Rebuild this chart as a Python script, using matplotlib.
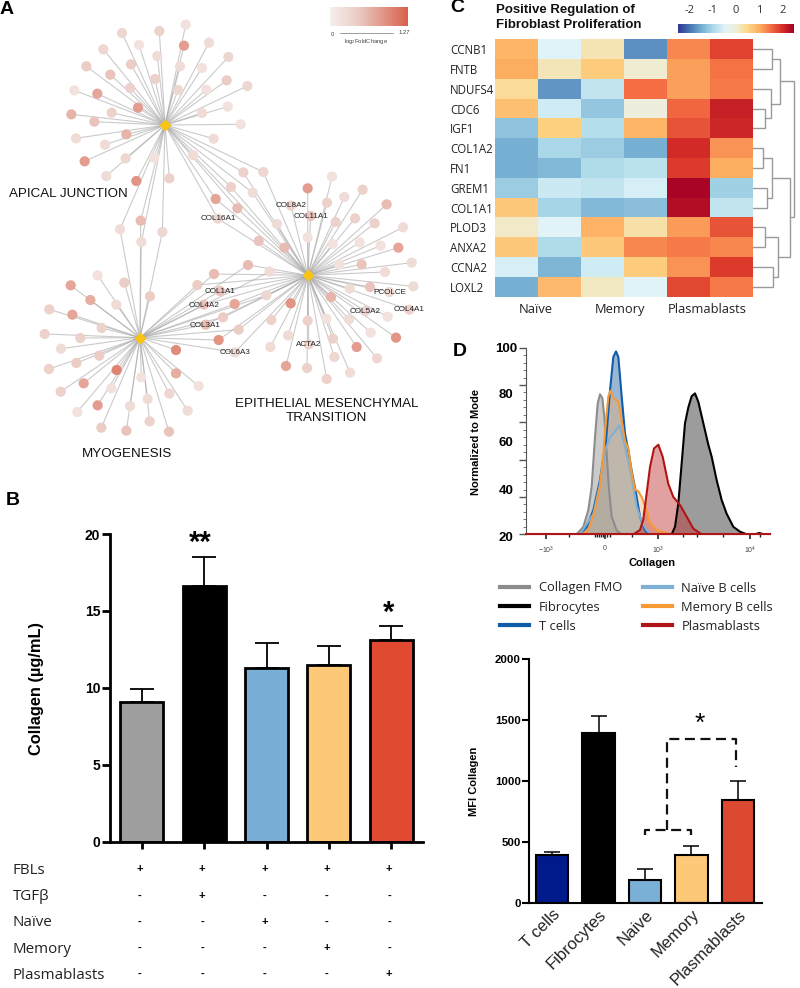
import matplotlib
matplotlib.use("Agg")
import matplotlib.pyplot as plt
import numpy as np
from matplotlib.colors import LinearSegmentedColormap
from matplotlib.lines import Line2D

plt.rcParams['font.family'] = ['Liberation Sans', 'DejaVu Sans']
plt.rcParams['mathtext.default'] = 'regular'

W, H = 800, 988
fig = plt.figure(figsize=(W / 100, H / 100), dpi=100, facecolor='white')


def px_axes(l, t, r, b, **kw):
    return fig.add_axes([l / W, 1 - b / H, (r - l) / W, (b - t) / H], **kw)


# ---------------------------- Panel A data ----------------------------
hub_apical = (495, 375)
hub_emt = (924, 826)
hub_myo = (420, 1013)
apical_nodes = [(557,74,.15),(366,99,.25),(478,93,.3),(552,137,.65),(627,128,.2),(417,135,.15),(310,148,.25),
    (472,168,.2),(685,171,.25),(259,199,.35),(393,193,.35),(540,199,.2),(606,204,.15),(331,224,.4),(465,237,.3),
    (680,241,.35),(742,258,.25),(223,271,.15),(390,264,.3),(534,270,.25),(619,269,.15),(292,281,.6),(414,323,.65),
    (683,320,.15),(214,343,.5),(335,338,.3),(606,339,.2),(283,365,.4),(722,373,.15),(379,403,.5),(228,415,.2),
    (641,416,.2),(315,434,.2),(254,484,.65),(377,475,.25),(319,528,.2),(409,543,.7),(508,535,.3),(462,474,.15)]
apical_emt_nodes = [(579,465,.2),(730,517,.3),(790,516,.25),(693,561,.3),(758,578,.2),(647,597,.6),(712,625,.45),(654,656,.25)]
apical_myo_nodes = [(360,688,.2),(422,662,.45),(424,726,.2),(487,696,.25)]
emt_nodes = [(996,530,.15),(923,565,.65),(1088,569,.3),(1033,591,.2),(981,608,.3),(1160,613,.45),(873,617,.3),
    (932,648,.4),(1007,666,.3),(1065,655,.3),(1124,670,.3),(1209,682,.2),(831,672,.2),(923,712,.15),(998,732,.15),
    (1079,727,.15),(1142,737,.15),(1195,743,.6),(776,723,.4),(853,743,.45),(1018,794,.15),(1085,793,.4),(1235,788,.2),
    (1155,816,.2),(1049,866,.2),(1110,861,.4),(1240,859,.2),(1168,876,.25),(993,891,.5),(1228,929,.3),(1096,933,.3),
    (1163,950,.15),(979,956,.15),(1047,958,.2),(923,962,.3),(1112,998,.15),(999,1016,.3),(1188,1013,.7),(926,1033,.3),
    (1070,1041,.65),(1003,1071,.25),(1131,1075,.25),(858,1098,.6),(921,1104,.3),(1050,1118,.2),(980,1137,.3),
    (872,910,.7),(814,960,.3),(864,1006,.2),(811,1041,.2)]
emt_myo_nodes = [(744,795,.45),(809,815,.2),(642,822,.45),(592,855,.35),(660,873,.4),(799,886,.25),(704,912,.6),
    (612,914,.4),(669,952,.35),(617,974,.45),(716,989,.35),(656,1020,.7),(705,1057,.2)]
myo_nodes = [(293,826,.15),(212,856,.6),(373,848,.35),(271,900,.55),(450,889,.35),(148,928,.3),(349,914,.2),
    (217,944,.6),(305,984,.3),(134,1002,.3),(241,1014,.3),(183,1046,.2),(298,1067,.35),(229,1089,.35),(147,1107,.3),
    (350,1110,.8),(528,1050,.75),(528,1120,.55),(424,1132,.15),(251,1150,.6),(334,1165,.15),(596,1158,.15),(182,1175,.3),
    (508,1181,.25),(443,1197,.2),(293,1216,.65),(390,1218,.2),(563,1232,.2),(232,1236,.15),(449,1264,.3),(304,1283,.35),
    (379,1292,.4),(507,1295,.4)]
gene_labels = [("COL16A1",654,656),("COL8A2",873,617),("COL11A1",932,649),("COL1A1",660,873),("COL4A2",612,915),
    ("COL3A1",616,975),("COL6A3",705,1057),("PCOLCE",1169,876),("COL5A2",1096,933),("COL4A1",1228,929),("ACTA2",926,1034)]
set_labels = [("APICAL JUNCTION",204,583),("MYOGENESIS",382,1363),("EPITHELIAL MESENCHYMAL\nTRANSITION",980,1233)]

# ---------------------------- Panel B data ----------------------------
b_values = [9.1, 16.6, 11.3, 11.5, 13.1]
b_err = [0.8, 1.9, 1.6, 1.2, 0.9]
b_colors = ['#9e9e9e', '#000000', '#79aed6', '#fdc878', '#e04a30']
b_rows = ['FBLs', 'TGFβ', 'Naïve', 'Memory', 'Plasmablasts']
b_table = [['+','+','+','+','+'], ['-','+','-','-','-'], ['-','-','+','-','-'], ['-','-','-','+','-'], ['-','-','-','-','+']]

# ---------------------------- Panel C data ----------------------------
genes = ['CCNB1','FNTB','NDUFS4','CDC6','IGF1','COL1A2','FN1','GREM1','COL1A1','PLOD3','ANXA2','CCNA2','LOXL2']
heat = [[.9,-.5,.25,-1.75,1.3,1.85],
        [1.0,.2,.65,.05,1.1,1.45],
        [.4,-1.7,-.8,1.5,1.1,1.4],
        [.8,-.65,-1.2,-.05,1.55,2.15],
        [-1.25,.6,-.9,.9,1.7,2.1],
        [-1.45,-1.0,-1.15,-1.45,2.05,1.2],
        [-1.45,-1.35,-.95,-.85,1.9,1.0],
        [-1.15,-.7,-.8,-.6,2.45,-1.1],
        [.7,-1.05,-1.35,-1.3,2.35,-.8],
        [.1,-.45,.95,.3,1.15,1.7],
        [.7,-.95,.7,1.3,1.4,1.3],
        [-.6,-1.4,-.65,.65,1.2,1.9],
        [-1.45,.85,.15,-.45,1.8,1.4]]
heat_groups = ['Naïve', 'Memory', 'Plasmablasts']
cbar_ticks = [-2, -1, 0, 1, 2]
# nested merges (left, right, height); integers are rows
dendro = (((0, 1, 19), (2, (3, 4, 12), 18), 27),
          (((5, 6, 10), (7, 8, 14), 19), ((9, 10, 12), (11, 12, 20), 25), 37), 41)

# ---------------------------- Panel D data ----------------------------
fmo_x = [410,430,445,455,465,473,480,487,493,500,507,515,530,545]
fmo_y = [0,4,13,25.5,52,70,75,73,63,43,24,9.5,2,0]
fib_x = [695,705,715,725,735,745,755,765,775,790,805,815,830,845,860,880,900,920,945,958,970,990]
fib_y = [0,4,16.6,38,59.5,68,74,75.5,71,59.5,48,41.6,29,18.4,11,4,1.4,0,0,0.7,0,0]
t_x = [420,440,460,480,498,510,520,528,535,545,555,565,575,585,600,615,630]
t_y = [0,4,13,29,50,77,95,98,95,74,54,45,34,25,9.5,2,0]
nai_x = [420,460,480,495,510,525,538,545,555,575,590,605,620,635]
nai_y = [0,11,27,45,52,55,58.5,54,47,31,15,7,2,0]
mem_x = [425,445,465,480,490,498,505,512,520,535,545,555,565,575,585,595,605,620,630,650,690]
mem_y = [0,2,13,25.5,43,61,74,77,73,71,61,50,46,33,24,23,20,13,6,2.3,0]
pla_x = [580,600,610,620,630,642,655,668,685,700,720,740,760,785]
pla_y = [0,2.3,8,22,36,46,48,41.6,27,20,15.7,9.5,3,0]
hist_series = [('Collagen FMO', fmo_x, fmo_y, '#8c8c8c', '#8c8c8c', 0.45),
               ('Fibrocytes', fib_x, fib_y, '#000000', '#3a3a3a', 0.5),
               ('T cells', t_x, t_y, '#0f5ca8', '#1f5f9e', 0.45),
               ('Naïve B cells', nai_x, nai_y, '#7fb0d6', '#a8c4d8', 0.4),
               ('Memory B cells', mem_x, mem_y, '#f79a35', '#f0b070', 0.4),
               ('Plasmablasts', pla_x, pla_y, '#b01515', '#c03030', 0.45)]
hist_major = [318, 495, 655, 930]
hist_minor = [388, 465, 472, 478, 484, 490, 500, 510, 575, 730, 770, 850, 960]
hist_ylabels = ['100', '80', '60', '40', '20']

# ---------------------------- Panel E data ----------------------------
e_labels = ['T cells', 'Fibrocytes', 'Naive', 'Memory', 'Plasmablasts']
e_values = [390, 1390, 185, 390, 840]
e_err = [30, 140, 95, 75, 160]
e_colors = ['#001a8c', '#000000', '#7aafd6', '#fdc878', '#db4a30']
bracket_left = ([1.99, 1.99, 2.98, 2.98], [555, 600, 600, 555])
bracket_main = ([2.47, 2.47, 3.96, 3.96], [600, 1343, 1343, 1116])

# ============================== Canvas ================================
canvas = px_axes(0, 0, W, H)
canvas.set_xlim(0, W)
canvas.set_ylim(H, 0)
canvas.axis('off')
canvas.set_zorder(20)
for letter, x, y in [('A', 0, 9), ('B', 6, 500), ('C', 450, 8), ('D', 453, 351)]:
    canvas.text(x, y, letter, fontsize=14, fontweight='bold', va='center', ha='left')

# ============================== Panel A ===============================
axA = px_axes(0, 0, 430, 480)
axA.set_xlim(0, 1290)
axA.set_ylim(1440, 0)
axA.axis('off')
fc_cmap = LinearSegmentedColormap.from_list('fc', ['#f6efec', '#eccfc8', '#e39a8c', '#d9604a'])
groups = [(apical_nodes, [hub_apical]), (apical_emt_nodes, [hub_apical, hub_emt]),
          (apical_myo_nodes, [hub_apical, hub_myo]), (emt_nodes, [hub_emt]),
          (emt_myo_nodes, [hub_emt, hub_myo]), (myo_nodes, [hub_myo])]
for nodes, hubs in groups:
    for nx, ny, fc in nodes:
        for hx, hy in hubs:
            axA.plot([hx, nx], [hy, ny], color='#a8a8a8', lw=0.8, alpha=0.6, zorder=1, solid_capstyle='round')
for nodes, hubs in groups:
    xs, ys, fcs = zip(*nodes)
    axA.scatter(xs, ys, c=fcs, cmap=fc_cmap, vmin=0, vmax=1, s=54, linewidths=0, zorder=2)
hx, hy = zip(hub_apical, hub_emt, hub_myo)
axA.scatter(hx, hy, marker='D', s=38, color='#fbc314', linewidths=0, zorder=3)
for name, x, y in gene_labels:
    axA.text(x, y, name, fontsize=5.9, ha='center', va='center', color='#222222', zorder=4)
for name, x, y in set_labels:
    axA.text(x, y, name, fontsize=9.6, ha='center', va='center', color='#111111', zorder=4, linespacing=1.15)

axL = px_axes(330, 7, 408, 26)
axL.imshow(np.linspace(0, 1, 128).reshape(1, -1), cmap=fc_cmap, aspect='auto')
axL.axis('off')
canvas.text(332, 34, '0', fontsize=4.2, ha='center', va='center', color='#444444')
canvas.text(404, 32, '1.27', fontsize=4.2, ha='center', va='center', color='#444444')
canvas.plot([340, 393], [33.5, 33.5], color='#777777', lw=0.5)
canvas.text(366, 41, 'log$_2$FoldChange', fontsize=4.2, ha='center', va='center', color='#444444')

# ============================== Panel B ===============================
axB = px_axes(110, 534, 423, 841.7)
xb = np.arange(len(b_values))
axB.errorbar(xb, b_values, yerr=[np.zeros(5), b_err], fmt='none', ecolor='black', elinewidth=1.3,
             capsize=8.3, capthick=1.3, zorder=1)
axB.bar(xb, b_values, width=0.69, color=b_colors, edgecolor='black', linewidth=2, zorder=2)
axB.set_xlim(-0.508, 4.508)
axB.set_ylim(0, 20)
axB.set_yticks([0, 5, 10, 15, 20])
axB.set_xticks(xb)
axB.set_xticklabels([])
axB.tick_params(axis='y', width=2, length=6, labelsize=10, pad=1)
axB.tick_params(axis='x', width=2, length=5)
for s in ('top', 'right'):
    axB.spines[s].set_visible(False)
for s in ('left', 'bottom'):
    axB.spines[s].set_linewidth(2)
for t in axB.get_yticklabels():
    t.set_fontweight('bold')
canvas.text(36.5, 688, 'Collagen (µg/mL)', rotation=90, fontsize=11.8, fontweight='bold', ha='center', va='center')
for rowy, name, row in zip([870, 896.7, 922.7, 949.3, 975.3], b_rows, b_table):
    canvas.text(13, rowy, name, fontsize=10.9, family=['Open Sans', 'DejaVu Sans'], va='center', ha='left', color='#222222')
    for i, sign in enumerate(row):
        x = axB.transData.transform((i, 0))[0]
        canvas.text(x - 2, rowy - 1, sign, fontsize=8, fontweight='bold', ha='center', va='center')
canvas.text(200, 543, '**', fontsize=21, fontweight='bold', ha='center', va='center')
canvas.text(389, 613, '*', fontsize=21, fontweight='bold', ha='center', va='center')

# ============================== Panel C ===============================
heat_cmap = LinearSegmentedColormap.from_list('heat', ['#313695', '#4575b4', '#74add1', '#abd9e9', '#e0f3f8', '#eeeeda',
                                                       '#fdd888', '#fdae61', '#f46d43', '#d73027', '#a50026'])
axC = px_axes(495, 39.3, 752.7, 296.7)
mesh = axC.pcolormesh(np.array(heat), cmap=heat_cmap, vmin=-2.5, vmax=2.5, edgecolors='none')
axC.set_ylim(len(genes), 0)
axC.set_xlim(0, 6)
for s in axC.spines.values():
    s.set_visible(False)
axC.set_yticks(np.arange(len(genes)) + 0.5)
axC.set_yticklabels(genes, fontsize=8.3, family=['Open Sans', 'DejaVu Sans'], ha='left', color='#222222')
axC.tick_params(axis='y', length=0, pad=32.5)
axC.set_xticks([0.94, 2.9, 4.95])
axC.set_xticklabels(heat_groups, fontsize=9.3, family=['Open Sans', 'DejaVu Sans'], color='#222222')
axC.tick_params(axis='x', length=0, pad=4.5)
canvas.text(495.7, 17.5, 'Positive Regulation of\nFibroblast Proliferation', fontsize=9.5, fontweight='bold',
            ha='left', va='center', linespacing=1.3, color='#111111')

cax = px_axes(678, 24, 794, 33)
cb = fig.colorbar(mesh, cax=cax, orientation='horizontal')
cb.outline.set_visible(False)
cb.set_ticks(cbar_ticks)
cb.set_ticklabels(['-2', '-1', '0', '1', '2'])
cax.xaxis.set_ticks_position('top')
cax.tick_params(axis='x', length=0, pad=6, labelsize=8, labelcolor='#333333')
for t in cax.get_xticklabels():
    t.set_family(['Open Sans', 'DejaVu Sans'])

axD2 = px_axes(752.7, 39.3, 798, 296.7)
axD2.set_xlim(0, 45.3)
axD2.set_ylim(len(genes), 0)
axD2.axis('off')


def draw_tree(node):
    if isinstance(node, int):
        return node + 0.5, 0
    left, right, h = node
    yl, hl = draw_tree(left)
    yr, hr = draw_tree(right)
    axD2.plot([hl, h, h, hr], [yl, yl, yr, yr], color='#9a9a9a', lw=1.0, solid_joinstyle='miter')
    return (yl + yr) / 2, h


draw_tree(dendro)

# ============================== Panel D ===============================
axH = px_axes(526, 347.7, 770, 534.3)
handles = []
for name, xs, ys, line, fill, alpha in hist_series:
    axH.fill_between(xs, 0, ys, color=fill, alpha=alpha, linewidth=0, zorder=2)
    axH.plot(xs, ys, color=line, lw=1.5, zorder=3)
    handles.append(Line2D([], [], color=line, lw=3, label=name))
axH.plot([258, 990], [0, 0], color='#b01515', lw=1.5, zorder=4, clip_on=False)
axH.set_xlim(258, 990)
axH.set_ylim(0, 100)
for s in ('top', 'right'):
    axH.spines[s].set_visible(False)
axH.spines['left'].set_color('#555555')
axH.spines['bottom'].set_color('#555555')
axH.set_yticks(np.arange(0, 101, 20))
axH.set_yticks(np.arange(0, 101, 4), minor=True)
axH.set_yticklabels([])
axH.tick_params(axis='y', which='major', length=5, width=1, color='#555555')
axH.tick_params(axis='y', which='minor', length=2.5, width=0.7, color='#777777')
axH.set_xticks(hist_major)
axH.set_xticklabels(['$-10^3$', '0', '$10^3$', '$10^4$'], fontsize=5, color='#444444')
axH.set_xticks(hist_minor, minor=True)
axH.tick_params(axis='x', which='major', length=3.5, width=1.2, pad=4, color='#222222')
axH.tick_params(axis='x', which='minor', length=2.5, width=1, color='#222222')
for lab, py in zip(hist_ylabels, [348.5, 395, 442.5, 490.5, 537.5]):
    canvas.text(506, py, lab, fontsize=9.5, fontweight='bold', ha='center', va='center')
canvas.text(476, 441.5, 'Normalized to Mode', rotation=90, fontsize=8, fontweight='bold', ha='center', va='center')
canvas.text(652.5, 562.5, 'Collagen', fontsize=8, fontweight='bold', ha='center', va='center')
leg = fig.legend(handles=handles, ncol=2, loc='upper left', bbox_to_anchor=(500 / W, 1 - 581.5 / H), frameon=False,
                 prop={'family': ['Open Sans', 'DejaVu Sans'], 'size': 9.3}, handlelength=2.25, handletextpad=0.75,
                 columnspacing=1.6, labelspacing=0.48, borderpad=0, borderaxespad=0, labelcolor='#222222')

# ============================== Panel E ===============================
axE = px_axes(529, 659, 761.7, 902.7)
xe = np.arange(len(e_values))
axE.errorbar(xe, e_values, yerr=[np.zeros(5), e_err], fmt='none', ecolor='black', elinewidth=1.1,
             capsize=6, capthick=1.1, zorder=1)
axE.bar(xe, e_values, width=0.69, color=e_colors, edgecolor='black', linewidth=1.5, zorder=2)
axE.set_xlim(-0.495, 4.51)
axE.set_ylim(0, 2000)
axE.set_yticks([0, 500, 1000, 1500, 2000])
axE.set_xticks(xe)
axE.set_xticklabels(e_labels, rotation=45, ha='right', rotation_mode='anchor', fontsize=12, color='#222222')
axE.tick_params(axis='y', width=1.5, length=5, labelsize=8.2, pad=1)
axE.tick_params(axis='x', length=0, pad=3)
for t in axE.get_yticklabels():
    t.set_fontweight('bold')
for s in ('top', 'right'):
    axE.spines[s].set_visible(False)
for s in ('left', 'bottom'):
    axE.spines[s].set_linewidth(1.5)
for bx, by in (bracket_left, bracket_main):
    axE.plot(bx, by, color='#111111', lw=1.6, dashes=(4.5, 2.5), zorder=3)
canvas.text(699.5, 724, '*', fontsize=19, ha='center', va='center')
canvas.text(474, 781.5, 'MFI Collagen', rotation=90, fontsize=8, fontweight='bold', ha='center', va='center')

fig.savefig('out.png', dpi=100, facecolor='white')
